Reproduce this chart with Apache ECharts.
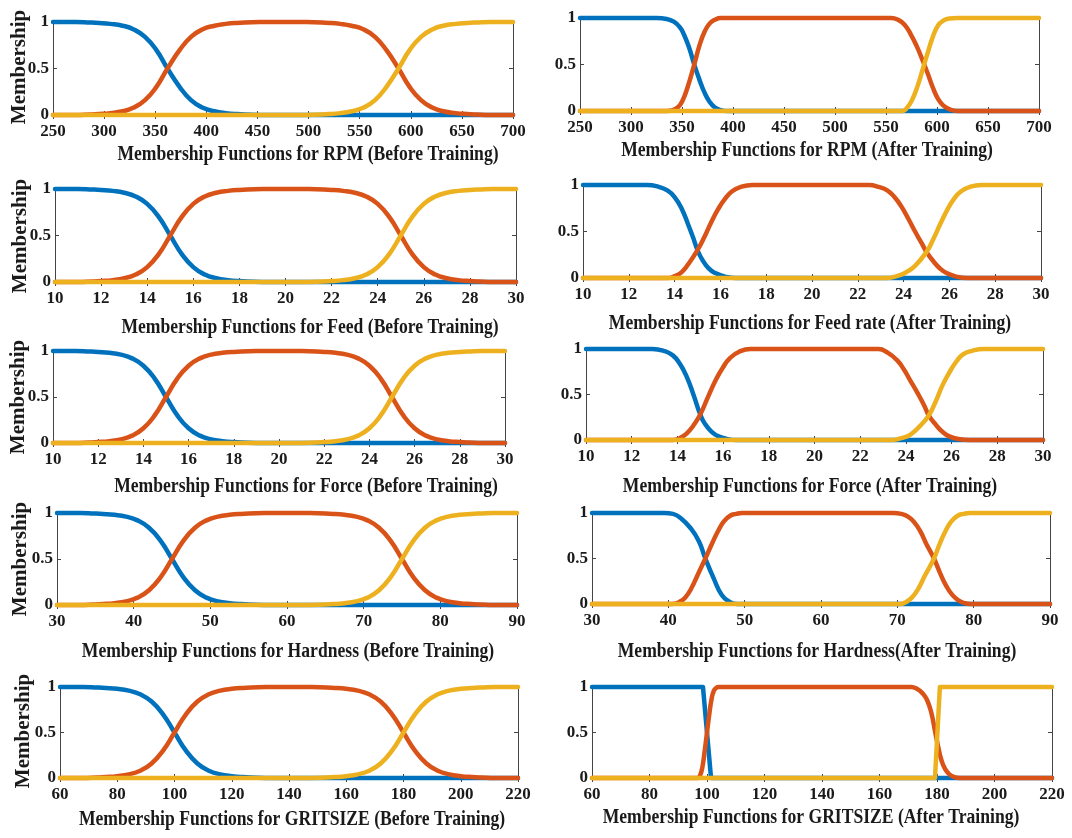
<!DOCTYPE html>
<html>
<head>
<meta charset="utf-8">
<title>Membership Functions</title>
<script src="https://cdn.jsdelivr.net/npm/echarts@6/dist/echarts.min.js"></script>
<style>
  html, body { margin: 0; padding: 0; background: #fff; }
  #chart { width: 1072px; height: 838px; }
</style>
</head>
<body>
<div id="chart"></div>
<script>
  // x axis ranges: [min, max, step]
  const rpmAxis = [250, 700, 50]
  const feedAxis = [10, 30, 2]
  const hardnessAxis = [30, 90, 10]
  const gritAxis = [60, 220, 20]
  const yAxisRange = [0, 1, 0.5]

  // before training: sample positions for each variable
  const rpmBeforeX = [250, 272, 286, 295, 306, 318, 329, 340, 351, 362, 374, 385, 396, 408, 419, 430, 452, 475, 498, 520, 531, 542, 554, 565, 576, 588, 599, 610, 621, 632, 644, 655, 664, 678, 700]
  const feedBeforeX = [10, 11, 11.6, 12, 12.5, 13, 13.5, 14, 14.5, 15, 15.5, 16, 16.5, 17, 17.5, 18, 19, 20, 21, 22, 22.5, 23, 23.5, 24, 24.5, 25, 25.5, 26, 26.5, 27, 27.5, 28, 28.4, 29, 30]
  const forceBeforeX = [10, 11, 11.6, 12, 12.5, 13, 13.5, 14, 14.5, 15, 15.5, 16, 16.5, 17, 17.5, 18, 19, 20, 21, 22, 22.5, 23, 23.5, 24, 24.5, 25, 25.5, 26, 26.5, 27, 27.5, 28, 28.4, 29, 30]
  const hardnessBeforeX = [30, 33, 34.8, 36, 37.5, 39, 40.5, 42, 43.5, 45, 46.5, 48, 49.5, 51, 52.5, 54, 57, 60, 63, 66, 67.5, 69, 70.5, 72, 73.5, 75, 76.5, 78, 79.5, 81, 82.5, 84, 85.2, 87, 90]
  const gritBeforeX = [60, 68, 72.8, 76, 80, 84, 88, 92, 96, 100, 104, 108, 112, 116, 120, 124, 132, 140, 148, 156, 160, 164, 168, 172, 176, 180, 184, 188, 192, 196, 200, 204, 207.2, 212, 220]

  // before training: the three curves look the same in every panel
  const beforeLow = [1, 1, 0.995, 0.99, 0.98, 0.96, 0.92, 0.84, 0.7, 0.5, 0.3, 0.16, 0.08, 0.04, 0.02, 0.01, 0, 0, 0, 0, 0, 0, 0, 0, 0, 0, 0, 0, 0, 0, 0, 0, 0, 0, 0]
  const beforeMid = [0, 0, 0.005, 0.01, 0.02, 0.04, 0.08, 0.16, 0.3, 0.5, 0.7, 0.84, 0.92, 0.96, 0.98, 0.99, 1, 1, 1, 0.99, 0.98, 0.96, 0.92, 0.84, 0.7, 0.5, 0.3, 0.16, 0.08, 0.04, 0.02, 0.01, 0.005, 0, 0]
  const beforeHigh = [0, 0, 0, 0, 0, 0, 0, 0, 0, 0, 0, 0, 0, 0, 0, 0, 0, 0, 0, 0.01, 0.02, 0.04, 0.08, 0.16, 0.3, 0.5, 0.7, 0.84, 0.92, 0.96, 0.98, 0.99, 0.995, 1, 1]

  // after training: [x, membership]
  const rpmAfterLow = [[250, 1], [325, 1], [335, 0.99], [342, 0.96], [348, 0.9], [352, 0.82], [357, 0.68], [362, 0.5], [367, 0.34], [372, 0.2], [377, 0.1], [382, 0.04], [388, 0.01], [395, 0], [700, 0]]
  const rpmAfterMid = [[250, 0], [335, 0], [341, 0.01], [346, 0.04], [350, 0.1], [355, 0.24], [362, 0.5], [367, 0.7], [372, 0.85], [377, 0.94], [382, 0.98], [388, 1], [555, 1], [562, 0.98], [568, 0.93], [574, 0.83], [580, 0.7], [586, 0.54], [591, 0.4], [596, 0.25], [601, 0.13], [606, 0.06], [612, 0.02], [620, 0], [700, 0]]
  const rpmAfterHigh = [[250, 0], [566, 0], [571, 0.04], [576, 0.13], [581, 0.27], [586, 0.45], [591, 0.63], [596, 0.8], [601, 0.92], [606, 0.97], [612, 0.995], [620, 1], [700, 1]]

  const feedAfterLow = [[10, 1], [12.8, 1], [13.3, 0.98], [13.7, 0.94], [14, 0.87], [14.3, 0.75], [14.6, 0.57], [14.8, 0.44], [15, 0.3], [15.2, 0.2], [15.5, 0.1], [15.8, 0.05], [16.2, 0.015], [16.7, 0], [30, 0]]
  const feedAfterMid = [[10, 0], [13.7, 0], [14, 0.02], [14.3, 0.06], [14.6, 0.15], [15, 0.3], [15.3, 0.44], [15.6, 0.6], [15.9, 0.74], [16.2, 0.85], [16.5, 0.93], [16.9, 0.98], [17.4, 1], [22.5, 1], [22.9, 0.98], [23.3, 0.94], [23.6, 0.87], [23.9, 0.77], [24.2, 0.64], [24.5, 0.5], [24.8, 0.37], [25, 0.28], [25.3, 0.18], [25.6, 0.1], [25.9, 0.05], [26.3, 0.015], [26.8, 0], [30, 0]]
  const feedAfterHigh = [[10, 0], [23.3, 0], [23.7, 0.02], [24.1, 0.06], [24.5, 0.13], [25, 0.28], [25.3, 0.42], [25.6, 0.58], [25.9, 0.73], [26.2, 0.85], [26.5, 0.93], [26.9, 0.98], [27.4, 1], [30, 1]]

  const forceAfterLow = [[10, 1], [12.9, 1], [13.4, 0.98], [13.8, 0.93], [14.1, 0.84], [14.4, 0.7], [14.7, 0.5], [15, 0.28], [15.2, 0.18], [15.5, 0.09], [15.8, 0.04], [16.2, 0.01], [16.6, 0], [30, 0]]
  const forceAfterMid = [[10, 0], [13.8, 0], [14.1, 0.02], [14.4, 0.07], [14.7, 0.16], [15, 0.28], [15.35, 0.48], [15.7, 0.67], [16, 0.8], [16.3, 0.9], [16.7, 0.97], [17.2, 1], [22.8, 1], [23.2, 0.96], [23.6, 0.88], [23.9, 0.78], [24.2, 0.65], [24.5, 0.52], [24.8, 0.38], [25, 0.27], [25.3, 0.17], [25.6, 0.09], [25.9, 0.04], [26.3, 0.01], [26.8, 0], [30, 0]]
  const forceAfterHigh = [[10, 0], [23.4, 0], [23.8, 0.02], [24.2, 0.06], [24.6, 0.15], [25, 0.27], [25.3, 0.42], [25.6, 0.6], [25.9, 0.74], [26.2, 0.86], [26.5, 0.94], [26.9, 0.98], [27.4, 1], [30, 1]]

  const hardnessAfterLow = [[30, 1], [39.5, 1], [40.6, 0.99], [41.6, 0.945], [42.9, 0.835], [44, 0.69], [44.85, 0.5], [45.9, 0.29], [47, 0.1], [48.1, 0.02], [49, 0], [90, 0]]
  const hardnessAfterMid = [[30, 0], [40.5, 0], [41.4, 0.02], [42.2, 0.07], [43, 0.17], [43.9, 0.33], [44.85, 0.5], [45.7, 0.66], [46.5, 0.8], [47.3, 0.91], [48.1, 0.97], [48.9, 0.99], [49.6, 1], [69.5, 1], [70.5, 0.99], [71.4, 0.96], [72.2, 0.9], [73, 0.8], [73.8, 0.66], [74.8, 0.5], [75.6, 0.34], [76.4, 0.2], [77.2, 0.1], [78, 0.04], [78.8, 0.01], [79.6, 0], [90, 0]]
  const hardnessAfterHigh = [[30, 0], [70.3, 0], [71.1, 0.02], [71.9, 0.07], [72.7, 0.16], [73.6, 0.31], [74.8, 0.5], [75.5, 0.65], [76.3, 0.8], [77.1, 0.91], [77.9, 0.97], [78.7, 0.99], [79.5, 1], [90, 1]]

  const gritAfterLow = [[60, 1], [98.6, 1], [101.4, 0], [220, 0]]
  const gritAfterMid = [[60, 0], [96.8, 0], [97.6, 0.03], [98.4, 0.12], [99.2, 0.3], [100, 0.5], [100.8, 0.7], [101.6, 0.87], [102.4, 0.96], [103.2, 0.99], [104, 1], [171, 1], [173, 0.98], [175, 0.93], [176.5, 0.86], [178, 0.72], [179.4, 0.5], [180.5, 0.33], [181.5, 0.2], [182.8, 0.1], [184.3, 0.04], [186, 0.01], [188, 0], [220, 0]]
  const gritAfterHigh = [[60, 0], [179.3, 0], [181, 1], [220, 1]]

  const colors = ['#0072BD', '#D95319', '#EDB120']
  const font = '"Liberation Serif", "Times New Roman", serif'
  const ink = '#1a1a1a'

  const zip = (xs, ys) => xs.map((x, i) => [x, ys[i]])

  // sharp: curves drawn as straight segments (almost step-like)
  const panels = [
    { title: 'Membership Functions for RPM (Before Training)', axis: rpmAxis, lines: [zip(rpmBeforeX, beforeLow), zip(rpmBeforeX, beforeMid), zip(rpmBeforeX, beforeHigh)] },
    { title: 'Membership Functions for RPM (After Training)', axis: rpmAxis, lines: [rpmAfterLow, rpmAfterMid, rpmAfterHigh] },
    { title: 'Membership Functions for Feed (Before Training)', axis: feedAxis, lines: [zip(feedBeforeX, beforeLow), zip(feedBeforeX, beforeMid), zip(feedBeforeX, beforeHigh)] },
    { title: 'Membership Functions for Feed rate (After Training)', axis: feedAxis, lines: [feedAfterLow, feedAfterMid, feedAfterHigh] },
    { title: 'Membership Functions for Force (Before Training)', axis: feedAxis, lines: [zip(forceBeforeX, beforeLow), zip(forceBeforeX, beforeMid), zip(forceBeforeX, beforeHigh)] },
    { title: 'Membership Functions for Force (After Training)', axis: feedAxis, lines: [forceAfterLow, forceAfterMid, forceAfterHigh] },
    { title: 'Membership Functions for Hardness (Before Training)', axis: hardnessAxis, lines: [zip(hardnessBeforeX, beforeLow), zip(hardnessBeforeX, beforeMid), zip(hardnessBeforeX, beforeHigh)] },
    { title: 'Membership Functions for Hardness(After Training)', axis: hardnessAxis, lines: [hardnessAfterLow, hardnessAfterMid, hardnessAfterHigh] },
    { title: 'Membership Functions for GRITSIZE (Before Training)', axis: gritAxis, lines: [zip(gritBeforeX, beforeLow), zip(gritBeforeX, beforeMid), zip(gritBeforeX, beforeHigh)] },
    { title: 'Membership Functions for GRITSIZE (After Training)', axis: gritAxis, lines: [gritAfterLow, gritAfterMid, gritAfterHigh], sharp: [true, false, true] }
  ]

  // plot boxes [left, top, width, height] and title centres, as in the figure
  const boxes = [
    [53, 22, 460, 93], [580, 18, 459, 93],
    [55, 189, 461, 93], [583, 185, 458, 93],
    [53, 351, 452, 92], [586, 349, 457, 91],
    [57, 513, 460, 92], [592, 513, 458, 91],
    [60, 687, 458, 91], [592, 687, 460, 91]
  ]
  const titlePos = [[308, 155], [807, 151], [310, 328], [810, 324], [306, 487], [810, 487], [288, 652], [817, 652], [292, 820], [811, 818]]
  const ylabelPos = [[20, 67], [21, 236], [19, 397], [21, 559], [24, 731]]

  const axisLine = { show: true, lineStyle: { color: '#444', width: 1 } }
  const tick = { show: true, inside: true, length: 4, lineStyle: { color: '#444' } }
  const tickLabel = { fontFamily: font, fontWeight: 'bold', fontSize: 17, color: ink }

  const grid = []
  const xAxis = []
  const yAxis = []
  const series = []
  const graphic = []

  panels.forEach((p, i) => {
    const b = boxes[i]
    grid.push({ left: b[0], top: b[1], width: b[2], height: b[3] })
    const [min, max, step] = p.axis
    xAxis.push({ gridIndex: i, type: 'value', min, max, interval: step, axisLine, axisTick: tick, splitLine: { show: false }, axisLabel: { ...tickLabel, margin: 8 } })
    xAxis.push({ gridIndex: i, type: 'value', position: 'top', min, max, interval: step, axisLine, axisTick: tick, splitLine: { show: false }, axisLabel: { show: false } })
    yAxis.push({ gridIndex: i, type: 'value', min: yAxisRange[0], max: yAxisRange[1], interval: yAxisRange[2], axisLine, axisTick: tick, splitLine: { show: false }, axisLabel: { ...tickLabel, margin: 4 } })
    yAxis.push({ gridIndex: i, type: 'value', position: 'right', min: yAxisRange[0], max: yAxisRange[1], interval: yAxisRange[2], axisLine, axisTick: tick, splitLine: { show: false }, axisLabel: { show: false } })

    p.lines.forEach((data, k) => {
      const sharp = p.sharp && p.sharp[k]
      series.push({
        type: 'line',
        xAxisIndex: i * 2,
        yAxisIndex: i * 2,
        data,
        showSymbol: false,
        smooth: sharp ? false : 0.5,
        clip: false,
        lineStyle: { color: colors[k], width: 4.5, join: 'round', cap: 'round' },
        emphasis: { disabled: true },
        silent: true
      })
    })

    // titles in the figure are a narrow, tall Times face
    graphic.push({
      type: 'text',
      x: titlePos[i][0],
      y: titlePos[i][1],
      scaleX: 0.88,
      style: { text: p.title, fontFamily: font, fontWeight: 'bold', fontSize: 20, fill: ink, align: 'center', verticalAlign: 'middle' }
    })
  })

  ylabelPos.forEach(([x, y]) => {
    graphic.push({
      type: 'text',
      x,
      y,
      rotation: Math.PI / 2,
      style: { text: 'Membership', fontFamily: font, fontWeight: 'bold', fontSize: 21, fill: ink, align: 'center', verticalAlign: 'middle' }
    })
  })

  const chart = echarts.init(document.getElementById('chart'))
  chart.setOption({
    animation: false,
    backgroundColor: '#fff',
    grid,
    xAxis,
    yAxis,
    series,
    graphic
  })
</script>
</body>
</html>
